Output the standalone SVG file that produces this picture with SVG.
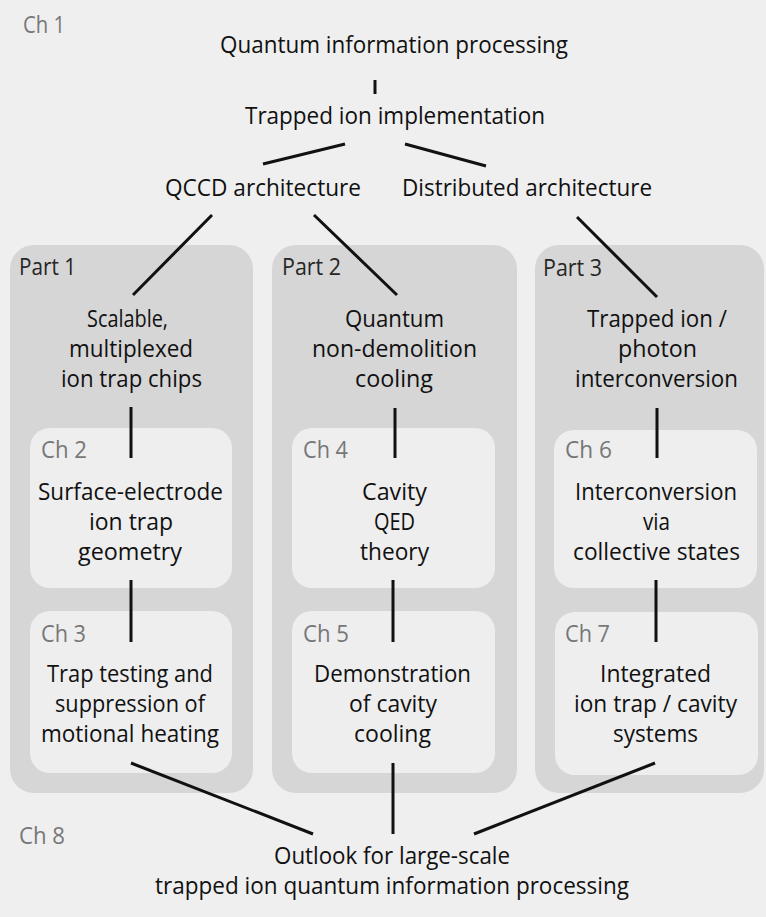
<svg xmlns="http://www.w3.org/2000/svg" width="766" height="917" viewBox="0 0 766 917">
<style>
.t{font-family:"Open Sans","Liberation Sans",sans-serif;font-size:24px;fill:#111}
.g{font-family:"Open Sans","Liberation Sans",sans-serif;font-size:24px;fill:#777}
.p{font-family:"Open Sans","Liberation Sans",sans-serif;font-size:23px;fill:#262626}
.panel{fill:#d6d6d6}
.box{fill:#eeeeee}
.c line{stroke:#111;stroke-width:3;stroke-linecap:butt}
</style>
<rect width="766" height="917" fill="#efefef"/>
<g id="part1">
<rect class="panel" x="10" y="245" width="243" height="548" rx="24"/>
<text class="p" x="19" y="275" textLength="57" lengthAdjust="spacingAndGlyphs">Part 1</text>
</g>
<g id="part2">
<rect class="panel" x="272" y="245" width="245" height="548" rx="24"/>
<text class="p" x="282" y="275" textLength="59" lengthAdjust="spacingAndGlyphs">Part 2</text>
</g>
<g id="part3">
<rect class="panel" x="535" y="245" width="229" height="548" rx="24"/>
<text class="p" x="543" y="276" textLength="59" lengthAdjust="spacingAndGlyphs">Part 3</text>
</g>
<g id="ch1">
<text class="g" x="23" y="33" textLength="42" lengthAdjust="spacingAndGlyphs">Ch 1</text>
</g>
<g id="qip">
<text class="t" x="220" y="53" textLength="348" lengthAdjust="spacingAndGlyphs">Quantum information processing</text>
</g>
<g id="trapped">
<text class="t" x="245" y="124" textLength="300" lengthAdjust="spacingAndGlyphs">Trapped ion implementation</text>
</g>
<g id="qccd">
<text class="t" x="165" y="196" textLength="196" lengthAdjust="spacingAndGlyphs">QCCD architecture</text>
</g>
<g id="distributed">
<text class="t" x="402" y="196" textLength="250" lengthAdjust="spacingAndGlyphs">Distributed architecture</text>
</g>
<g id="scalable">
<text class="t" x="87" y="327" textLength="81" lengthAdjust="spacingAndGlyphs">Scalable,</text>
<text class="t" x="69" y="357" textLength="124" lengthAdjust="spacingAndGlyphs">multiplexed</text>
<text class="t" x="61" y="387" textLength="141" lengthAdjust="spacingAndGlyphs">ion trap chips</text>
</g>
<g id="qnd">
<text class="t" x="345" y="327" textLength="99" lengthAdjust="spacingAndGlyphs">Quantum</text>
<text class="t" x="312" y="357" textLength="165" lengthAdjust="spacingAndGlyphs">non-demolition</text>
<text class="t" x="355" y="387" textLength="78" lengthAdjust="spacingAndGlyphs">cooling</text>
</g>
<g id="photon">
<text class="t" x="587" y="327" textLength="140" lengthAdjust="spacingAndGlyphs">Trapped ion /</text>
<text class="t" x="618" y="357" textLength="79" lengthAdjust="spacingAndGlyphs">photon</text>
<text class="t" x="575" y="387" textLength="163" lengthAdjust="spacingAndGlyphs">interconversion</text>
</g>
<g id="ch2">
<rect class="box" x="30" y="428" width="202" height="160" rx="20"/>
<text class="g" x="41" y="458" textLength="46" lengthAdjust="spacingAndGlyphs">Ch 2</text>
<text class="t" x="38" y="500" textLength="185" lengthAdjust="spacingAndGlyphs">Surface-electrode</text>
<text class="t" x="89" y="530" textLength="84" lengthAdjust="spacingAndGlyphs">ion trap</text>
<text class="t" x="78" y="560" textLength="104" lengthAdjust="spacingAndGlyphs">geometry</text>
</g>
<g id="ch3">
<rect class="box" x="30" y="611" width="202" height="162" rx="20"/>
<text class="g" x="41" y="642" textLength="45" lengthAdjust="spacingAndGlyphs">Ch 3</text>
<text class="t" x="47" y="682" textLength="166" lengthAdjust="spacingAndGlyphs">Trap testing and</text>
<text class="t" x="55" y="712" textLength="150" lengthAdjust="spacingAndGlyphs">suppression of</text>
<text class="t" x="41" y="742" textLength="178" lengthAdjust="spacingAndGlyphs">motional heating</text>
</g>
<g id="ch4">
<rect class="box" x="292" y="428" width="203" height="160" rx="20"/>
<text class="g" x="303" y="458" textLength="45" lengthAdjust="spacingAndGlyphs">Ch 4</text>
<text class="t" x="362" y="500" textLength="65" lengthAdjust="spacingAndGlyphs">Cavity</text>
<text class="t" x="374" y="530" textLength="41" lengthAdjust="spacingAndGlyphs">QED</text>
<text class="t" x="360" y="560" textLength="69" lengthAdjust="spacingAndGlyphs">theory</text>
</g>
<g id="ch5">
<rect class="box" x="292" y="611" width="203" height="162" rx="20"/>
<text class="g" x="303" y="642" textLength="46" lengthAdjust="spacingAndGlyphs">Ch 5</text>
<text class="t" x="314" y="682" textLength="157" lengthAdjust="spacingAndGlyphs">Demonstration</text>
<text class="t" x="349" y="712" textLength="88" lengthAdjust="spacingAndGlyphs">of cavity</text>
<text class="t" x="354" y="742" textLength="77" lengthAdjust="spacingAndGlyphs">cooling</text>
</g>
<g id="ch6">
<rect class="box" x="554" y="430" width="203" height="158" rx="20"/>
<text class="g" x="565" y="458" textLength="47" lengthAdjust="spacingAndGlyphs">Ch 6</text>
<text class="t" x="575" y="500" textLength="162" lengthAdjust="spacingAndGlyphs">Interconversion</text>
<text class="t" x="643" y="530" textLength="27" lengthAdjust="spacingAndGlyphs">via</text>
<text class="t" x="573" y="560" textLength="167" lengthAdjust="spacingAndGlyphs">collective states</text>
</g>
<g id="ch7">
<rect class="box" x="555" y="612" width="203" height="163" rx="20"/>
<text class="g" x="565" y="642" textLength="45" lengthAdjust="spacingAndGlyphs">Ch 7</text>
<text class="t" x="600" y="682" textLength="111" lengthAdjust="spacingAndGlyphs">Integrated</text>
<text class="t" x="574" y="712" textLength="163" lengthAdjust="spacingAndGlyphs">ion trap / cavity</text>
<text class="t" x="613" y="742" textLength="85" lengthAdjust="spacingAndGlyphs">systems</text>
</g>
<g id="ch8">
<text class="g" x="19" y="844" textLength="46" lengthAdjust="spacingAndGlyphs">Ch 8</text>
<text class="t" x="274" y="864" textLength="236" lengthAdjust="spacingAndGlyphs">Outlook for large-scale</text>
<text class="t" x="155" y="894" textLength="474" lengthAdjust="spacingAndGlyphs">trapped ion quantum information processing</text>
</g>
<g id="connectors" class="c">
<line x1="375" y1="80" x2="375" y2="94"/>
<line x1="345" y1="144" x2="263" y2="164"/>
<line x1="405" y1="144" x2="486" y2="166"/>
<line x1="212" y1="215" x2="133" y2="295"/>
<line x1="314" y1="215" x2="397" y2="295"/>
<line x1="577" y1="217" x2="657" y2="297"/>
<line x1="131" y1="407" x2="131" y2="458"/>
<line x1="395" y1="408" x2="395" y2="458"/>
<line x1="657" y1="408" x2="657" y2="458"/>
<line x1="131" y1="580" x2="131" y2="642"/>
<line x1="393" y1="580" x2="393" y2="642"/>
<line x1="656" y1="580" x2="656" y2="642"/>
<line x1="131" y1="763" x2="313" y2="834"/>
<line x1="393" y1="763" x2="393" y2="834"/>
<line x1="655" y1="763" x2="474" y2="834"/>
</g>
</svg>
